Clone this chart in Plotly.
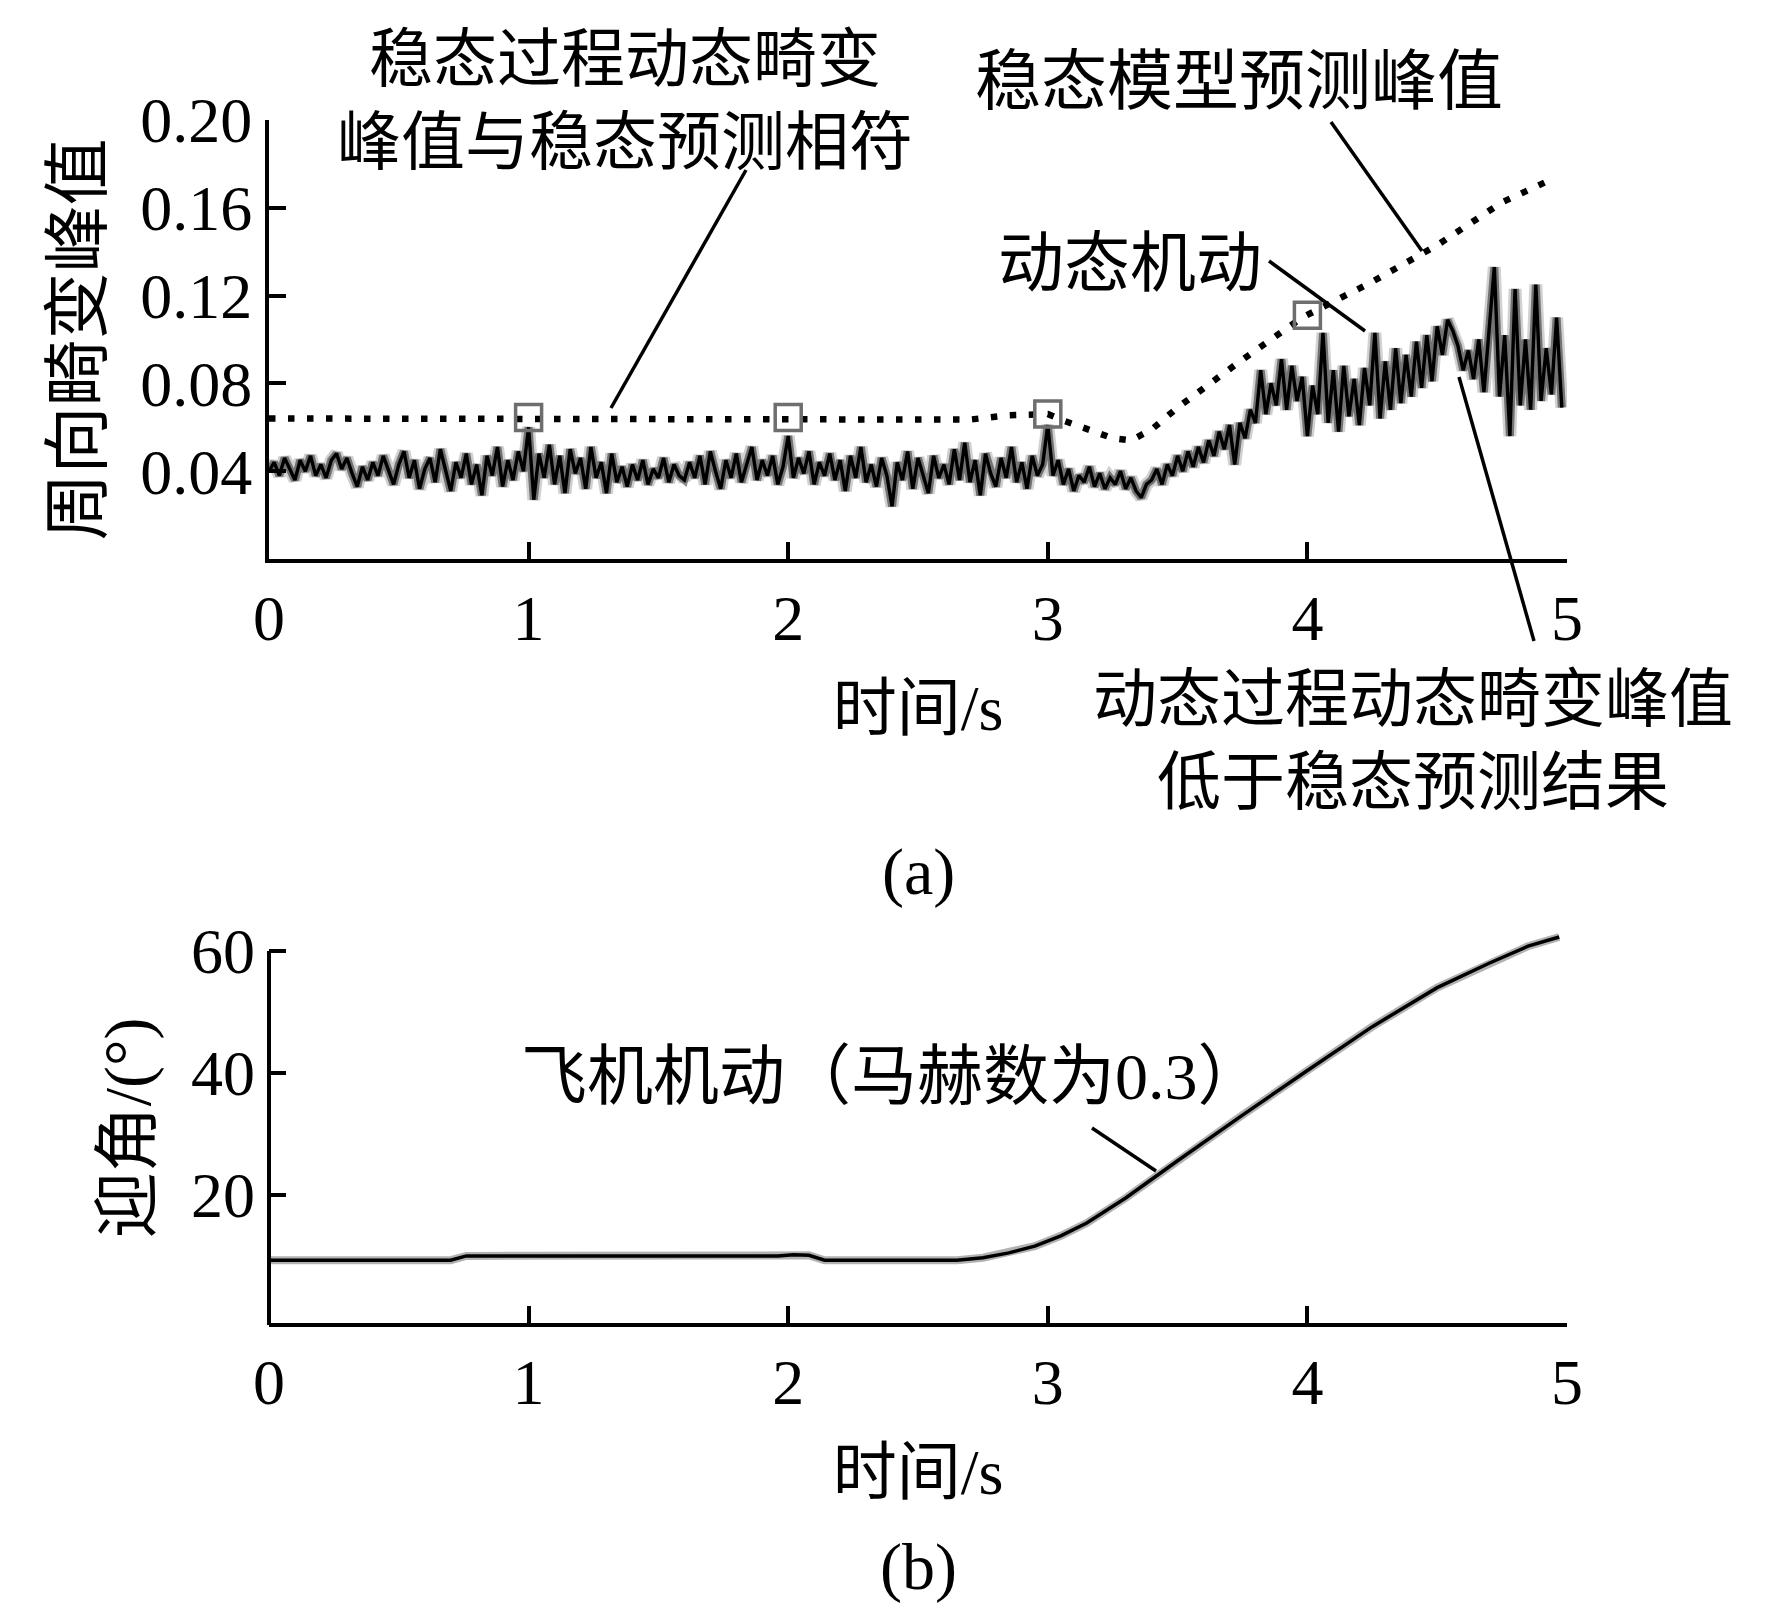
import plotly.graph_objects as go

# ---- data ----
# (a) circumferential distortion peak, dynamic manoeuvre, sampled every 0.02 s
noise_v = [
    0.040, 0.044, 0.038, 0.046, 0.041, 0.036, 0.045, 0.040, 0.047, 0.038,
    0.043, 0.037, 0.045, 0.048, 0.041, 0.046, 0.039, 0.033, 0.042, 0.036,
    0.044, 0.038, 0.047, 0.040, 0.034, 0.043, 0.049, 0.037, 0.045, 0.032,
    0.041, 0.046, 0.035, 0.050, 0.040, 0.031, 0.044, 0.037, 0.048, 0.034,
    0.043, 0.029, 0.047, 0.038, 0.051, 0.033, 0.045, 0.036, 0.049, 0.040,
    0.060, 0.027, 0.048, 0.037, 0.052, 0.034, 0.047, 0.030, 0.050, 0.039,
    0.046, 0.032, 0.051, 0.037, 0.044, 0.030, 0.048, 0.035, 0.042, 0.033,
    0.043, 0.036, 0.045, 0.034, 0.041, 0.037, 0.046, 0.035, 0.043, 0.038,
    0.036, 0.044, 0.037, 0.047, 0.034, 0.049, 0.040, 0.032, 0.045, 0.037,
    0.048, 0.035, 0.043, 0.051, 0.036, 0.045, 0.038, 0.047, 0.034, 0.042,
    0.056, 0.037, 0.046, 0.039, 0.049, 0.034, 0.044, 0.038, 0.048, 0.036,
    0.045, 0.031, 0.047, 0.037, 0.051, 0.035, 0.043, 0.033, 0.046, 0.038,
    0.024, 0.044, 0.036, 0.049, 0.032, 0.046, 0.038, 0.030, 0.047, 0.037,
    0.043, 0.034, 0.050, 0.036, 0.053, 0.035, 0.045, 0.029, 0.048, 0.039,
    0.033, 0.046, 0.037, 0.051, 0.035, 0.044, 0.032, 0.047, 0.038, 0.043,
    0.061, 0.038, 0.045, 0.034, 0.041, 0.031, 0.038, 0.035, 0.042, 0.033,
    0.039, 0.032, 0.037, 0.034, 0.040, 0.032, 0.037, 0.031, 0.028, 0.034,
    0.036, 0.041, 0.034, 0.043, 0.038, 0.047, 0.040, 0.049, 0.042, 0.051,
    0.044, 0.054, 0.047, 0.058, 0.050, 0.061, 0.043, 0.062, 0.055, 0.068,
    0.062, 0.086, 0.066, 0.080, 0.070, 0.091, 0.068, 0.088, 0.072, 0.083,
    0.056, 0.079, 0.066, 0.103, 0.062, 0.086, 0.058, 0.088, 0.065, 0.082,
    0.061, 0.087, 0.070, 0.103, 0.064, 0.090, 0.068, 0.096, 0.071, 0.093,
    0.074, 0.099, 0.078, 0.102, 0.081, 0.106, 0.093, 0.109, 0.104, 0.097,
    0.086, 0.095, 0.082, 0.100, 0.076, 0.104, 0.133, 0.074, 0.102, 0.056,
    0.123, 0.070, 0.100, 0.068, 0.125, 0.072, 0.096, 0.075, 0.110, 0.069,
]
noise_t = [round(i * 0.02, 2) for i in range(len(noise_v))]

# (a) steady-state model prediction (dotted)
pred_t = [0, 1, 2, 2.7, 2.85, 3.0, 3.05, 3.15, 3.25, 3.32, 3.40, 3.50,
          3.74, 3.98, 4.245, 4.50, 4.75, 4.95]
pred_v = [0.064, 0.064, 0.064, 0.0635, 0.0655, 0.066, 0.0635, 0.059, 0.055,
          0.054, 0.059, 0.069, 0.090, 0.110, 0.126, 0.143, 0.1625, 0.1735]

# (a) steady-state check points (squares)
sq_t = [1, 2, 3, 4]
sq_v = [0.0645, 0.0645, 0.066, 0.111]

# (b) angle of attack
aoa_t = [0, 0.70, 0.76, 1.96, 2.02, 2.08, 2.14, 2.65, 2.75, 2.85, 2.95,
         3.05, 3.15, 3.30, 3.50, 3.75, 4.00, 4.25, 4.50, 4.70, 4.85, 4.97]
aoa_v = [9.3, 9.3, 10.0, 10.0, 10.2, 10.1, 9.3, 9.3, 9.7, 10.5, 11.6,
         13.3, 15.4, 19.5, 25.6, 33.1, 40.4, 47.6, 54.0, 58.0, 60.8, 62.3]

a_yticks = [0.04, 0.08, 0.12, 0.16, 0.20]
b_yticks = [20, 40, 60]
x_ticks = [0, 1, 2, 3, 4, 5]

SERIF = "Liberation Serif"
MIXED = "Liberation Serif, Noto Sans CJK SC"
CJK = "Noto Sans CJK SC"


# pixel -> paper helpers (plot area: x 261..1559, y 112..1315)
def px(x):
    return (x - 261) / 1298


def py(y):
    return (1315 - y) / 1203


fig = go.Figure()

# blurred noisy trace: soft grey halos + black core
for col, w in [("rgba(0,0,0,0.18)", 13), ("rgba(0,0,0,0.45)", 8), ("black", 3.4)]:
    fig.add_trace(go.Scatter(x=noise_t, y=noise_v, mode="lines",
                             line=dict(color=col, width=w),
                             xaxis="x", yaxis="y", hoverinfo="skip"))
fig.add_trace(go.Scatter(x=pred_t, y=pred_v, mode="lines",
                         line=dict(color="black", width=6.5, dash="6.5px,12.5px"),
                         xaxis="x", yaxis="y"))
fig.add_trace(go.Scatter(x=sq_t, y=sq_v, mode="markers",
                         marker=dict(symbol="square-open", size=26, color="#6e6e6e",
                                     line=dict(width=3.5, color="#6e6e6e")),
                         xaxis="x", yaxis="y"))

for col, w in [("rgba(0,0,0,0.3)", 8), ("black", 3.5)]:
    fig.add_trace(go.Scatter(x=aoa_t, y=aoa_v, mode="lines",
                             line=dict(color=col, width=w),
                             xaxis="x2", yaxis="y2", hoverinfo="skip"))

axis_common = dict(showline=True, linecolor="black", linewidth=4,
                   ticks="inside", ticklen=17, tickwidth=3.5, tickcolor="black",
                   showgrid=False, zeroline=False,
                   tickfont=dict(family=SERIF, size=64, color="black"))

fig.update_layout(
    width=1772, height=1606,
    margin=dict(l=261, r=213, t=112, b=291),
    paper_bgcolor="white", plot_bgcolor="white",
    showlegend=False,
    xaxis=dict(axis_common, domain=[0, 1], range=[0, 5], tickvals=x_ticks,
               anchor="y",
               title=dict(text="时间/s", font=dict(family=MIXED, size=64, color="black"),
                          standoff=33)),
    yaxis=dict(axis_common, domain=[0.6351, 1], range=[0, 0.20], tickvals=a_yticks,
               tickformat=".2f", anchor="x",
               title=dict(text="周向畸变峰值", font=dict(family=MIXED, size=67, color="black"),
                          standoff=18)),
    xaxis2=dict(axis_common, domain=[0, 1], range=[0, 5], tickvals=x_ticks,
                anchor="y2",
                title=dict(text="时间/s", font=dict(family=MIXED, size=64, color="black"),
                           standoff=33)),
    # range reaches a little above 60 so the curve is not clipped; the
    # visible axis line stops at 60 (drawn as a shape below)
    yaxis2=dict(axis_common, showline=False, domain=[0, 0.3244], range=[-1, 63],
                tickvals=b_yticks, anchor="x2", ticklabelstandoff=13,
                title=dict(text="迎角/(°)", font=dict(family=MIXED, size=66, color="black"),
                           standoff=18)),
)

# left axis line of panel (b), from the x axis up to the 60 tick
fig.add_shape(type="line", xref="paper", yref="paper",
              x0=0, x1=0, y0=py(1317), y1=py(943),
              line=dict(color="black", width=4))

# text labels
labels = [
    ("稳态过程动态畸变<br>峰值与稳态预测相符", 617, 86, CJK, 64),
    ("稳态模型预测峰值", 1231, 67, CJK, 66),
    ("动态机动", 1122, 249, CJK, 66),
    ("动态过程动态畸变峰值<br>低于稳态预测结果", 1405, 726, CJK, 64),
    ("飞机机动（马赫数为0.3）", 884, 1068, MIXED, 66),
    ("(a)", 910, 864, SERIF, 66),
    ("(b)", 910, 1559, SERIF, 66),
]
for txt, x, y, fam, size in labels:
    fig.add_annotation(text=txt, x=px(x), y=py(y), xref="paper", yref="paper",
                       xanchor="center", yanchor="middle", align="center",
                       showarrow=False,
                       font=dict(family=fam, size=size, color="black"))

# leader lines
leaders = [
    ((738, 162), (603, 400)),
    ((1323, 114), (1414, 243)),
    ((1261, 253), (1357, 323)),
    ((1451, 369), (1526, 633)),
    ((1084, 1120), (1148, 1163)),
]
for (x0, y0), (x1, y1) in leaders:
    fig.add_shape(type="line", xref="paper", yref="paper",
                  x0=px(x0), y0=py(y0), x1=px(x1), y1=py(y1),
                  line=dict(color="black", width=3.5))

fig.write_html("out.html")
